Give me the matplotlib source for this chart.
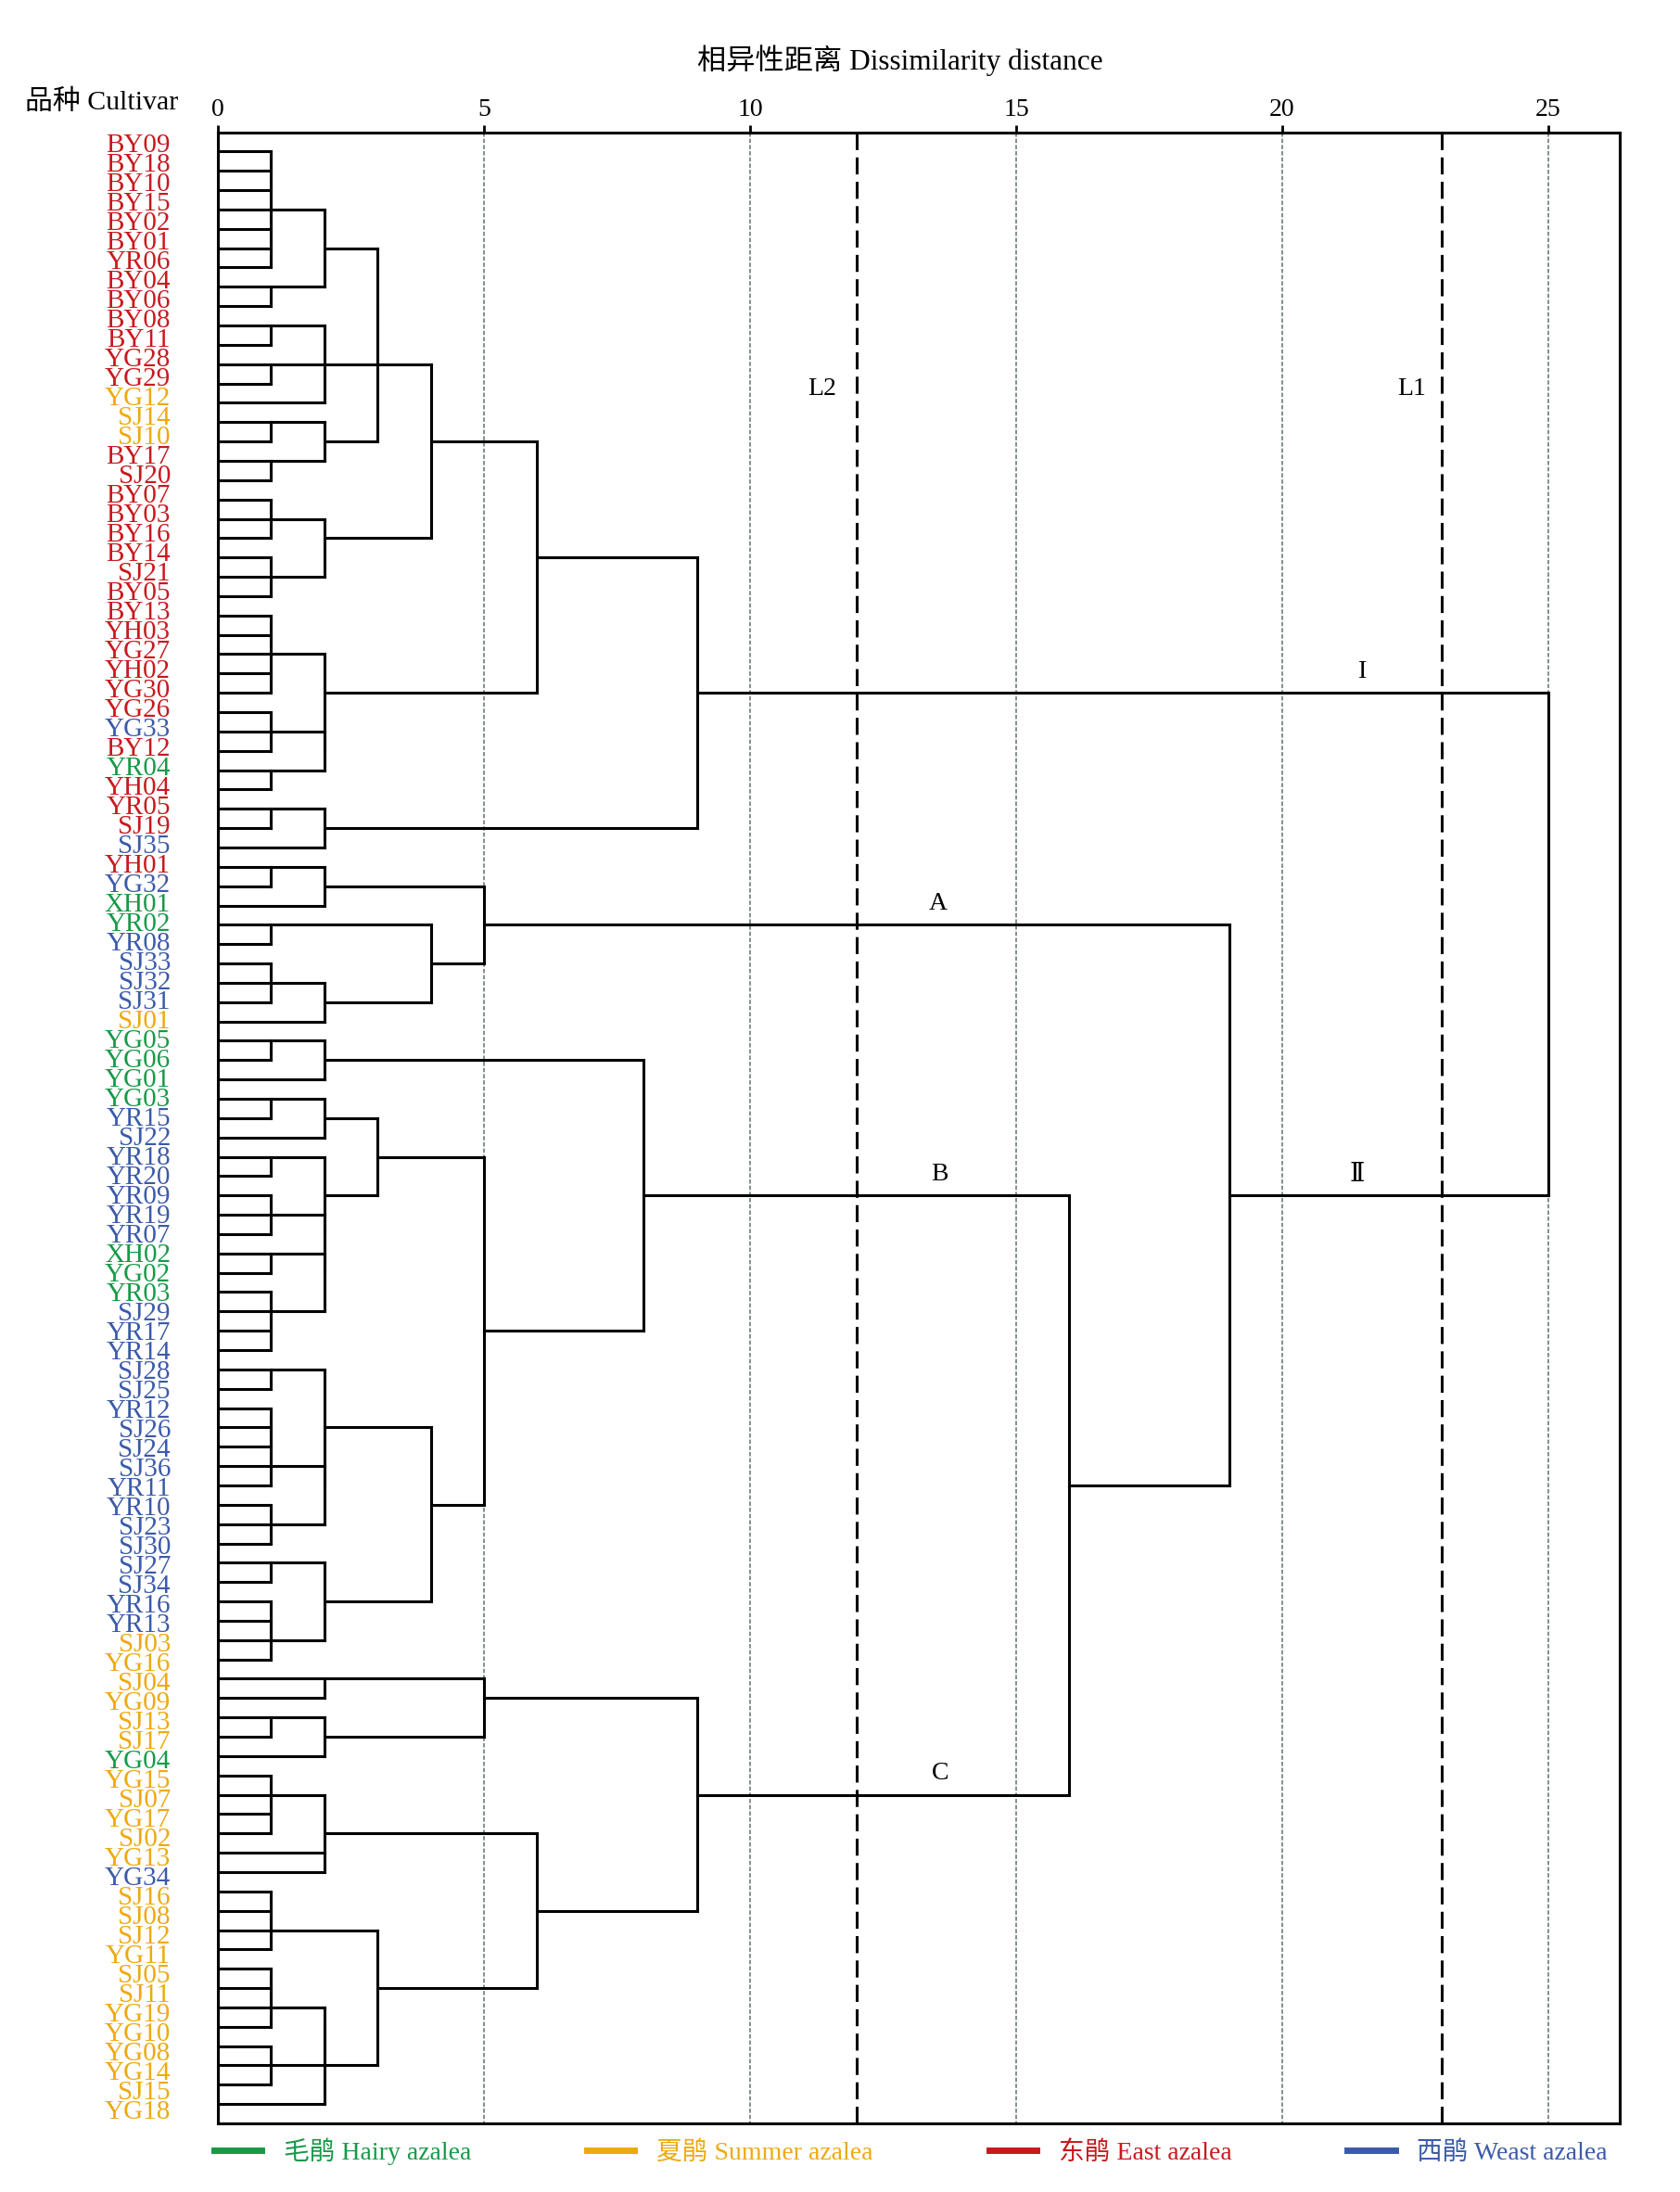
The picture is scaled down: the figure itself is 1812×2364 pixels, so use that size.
import matplotlib
matplotlib.use('Agg')
import matplotlib.pyplot as plt
from matplotlib.collections import LineCollection
from matplotlib.lines import Line2D

plt.rcParams['font.family'] = ['Liberation Serif', 'Noto Sans CJK SC']

# leaf labels, top to bottom
cultivars = ['BY09', 'BY18', 'BY10', 'BY15', 'BY02', 'BY01', 'YR06', 'BY04', 'BY06', 'BY08',
             'BY11', 'YG28', 'YG29', 'YG12', 'SJ14', 'SJ10', 'BY17', 'SJ20', 'BY07', 'BY03',
             'BY16', 'BY14', 'SJ21', 'BY05', 'BY13', 'YH03', 'YG27', 'YH02', 'YG30', 'YG26',
             'YG33', 'BY12', 'YR04', 'YH04', 'YR05', 'SJ19', 'SJ35', 'YH01', 'YG32', 'XH01',
             'YR02', 'YR08', 'SJ33', 'SJ32', 'SJ31', 'SJ01', 'YG05', 'YG06', 'YG01', 'YG03',
             'YR15', 'SJ22', 'YR18', 'YR20', 'YR09', 'YR19', 'YR07', 'XH02', 'YG02', 'YR03',
             'SJ29', 'YR17', 'YR14', 'SJ28', 'SJ25', 'YR12', 'SJ26', 'SJ24', 'SJ36', 'YR11',
             'YR10', 'SJ23', 'SJ30', 'SJ27', 'SJ34', 'YR16', 'YR13', 'SJ03', 'YG16', 'SJ04',
             'YG09', 'SJ13', 'SJ17', 'YG04', 'YG15', 'SJ07', 'YG17', 'SJ02', 'YG13', 'YG34',
             'SJ16', 'SJ08', 'SJ12', 'YG11', 'SJ05', 'SJ11', 'YG19', 'YG10', 'YG08', 'YG14',
             'SJ15', 'YG18']

# H = hairy, S = summer, E = east, W = weast
groups = ['E', 'E', 'E', 'E', 'E', 'E', 'E', 'E', 'E', 'E',
          'E', 'E', 'E', 'S', 'S', 'S', 'E', 'E', 'E', 'E',
          'E', 'E', 'E', 'E', 'E', 'E', 'E', 'E', 'E', 'E',
          'W', 'E', 'H', 'E', 'E', 'E', 'W', 'E', 'W', 'H',
          'H', 'W', 'W', 'W', 'W', 'S', 'H', 'H', 'H', 'H',
          'W', 'W', 'W', 'W', 'W', 'W', 'W', 'H', 'H', 'H',
          'W', 'W', 'W', 'W', 'W', 'W', 'W', 'W', 'W', 'W',
          'W', 'W', 'W', 'W', 'W', 'W', 'W', 'S', 'S', 'S',
          'S', 'S', 'S', 'H', 'S', 'S', 'S', 'S', 'S', 'W',
          'S', 'S', 'S', 'S', 'S', 'S', 'S', 'S', 'S', 'S',
          'S', 'S']

group_order = ['H', 'S', 'E', 'W']
group_names = {'H': '毛鹃 Hairy azalea', 'S': '夏鹃 Summer azalea',
               'E': '东鹃 East azalea', 'W': '西鹃 Weast azalea'}
group_colors = {'H': '#169a48', 'S': '#eea910', 'E': '#c8191e', 'W': '#3b5aa9'}

# tree nodes: [rescaled distance, child, child, ...]; a child is a leaf index or a node
i_a = [2, [1, 0, 1, 2, 3, 4, 5, 6], [1, 7, 8]]
i_b = [2, [1, 9, 10], [1, 11, 12], 13]
i_c = [2, [1, 14, 15], [1, 16, 17]]
i_d = [2, [1, 18, 19, 20], [1, 21, 22, 23]]
i_e = [2, [1, 24, 25, 26, 27, 28], [2, [1, 29, 30, 31], [1, 32, 33]]]
i_f = [2, [1, 34, 35], 36]
cluster_I = [9, [6, [4, [3, [3, i_a, i_b], i_c], i_d], i_e], i_f]

a_g = [2, [1, 37, 38], 39]
a_h = [4, [1, 40, 41], [2, [1, 42, 43, 44], 45]]
cluster_A = [5, a_g, a_h]

b_i = [2, [1, 46, 47], 48]
b_j = [2, [1, 49, 50], 51]
b_k = [2, [1, 52, 53], [2, [1, 54, 55, 56], [2, [1, 57, 58], [1, 59, 60, 61, 62]]]]
b_l = [2, [1, 63, 64], [2, [1, [1, [1, 65, 66, 67], 68], 69], [1, 70, 71, 72]]]
b_m = [2, [1, 73, 74], [1, [1, 75, 76, 77], 78]]
cluster_B = [8, b_i, [5, [3, b_j, b_k], [4, b_l, b_m]]]

c_n = [5, [2, 79, 80], [2, [1, 81, 82], 83]]
c_o = [2, [1, 84, 85, 86, 87], 88, 89]
c_p = [3, [1, [1, 90, 91, 92], 93], [2, [2, [1, [1, 94, 95, 96], 97], [1, 98, 99, 100]], 101]]
cluster_C = [9, c_n, [6, c_o, c_p]]

cluster_BC = [16, cluster_B, cluster_C]
cluster_II = [19, cluster_A, cluster_BC]
root = [25, cluster_I, cluster_II]

cut_L2 = 12
cut_L1 = 23

# --- layout of the tree (SPSS-like: node row = floor of mean of child rows)
segments = []
node_row = {}


def layout(node):
    if isinstance(node, int):
        return node, 0
    height, *children = node
    placed = [layout(c) for c in children]
    rows = [p for p, _ in placed]
    for p, h in placed:
        if h != height:
            segments.append([(h, p), (height, p)])
    segments.append([(height, min(rows)), (height, max(rows))])
    row = sum(rows) // len(rows)
    node_row[id(node)] = row
    return row, height


layout(root)

fig = plt.figure(figsize=(18.12, 23.64), dpi=100)
ax = fig.add_axes([0.1297, 0.0313, 0.8344, 0.9084])
n = len(cultivars)
ax.set_xlim(0, 26.34)
ax.set_ylim(n, -1)

# grid and cut lines
ax.vlines([5, 10, 15, 20, 25], -1, n, colors='#7a8780', linewidth=1.3,
          linestyles=(0, (2.5, 1.2)), zorder=1)
ax.vlines([cut_L2, cut_L1], -1, n, colors='black', linewidth=2.2,
          linestyles=(0, (6, 2.6)), zorder=2)

lc = LineCollection(segments, colors='black', linewidths=2.2, capstyle='projecting', zorder=3)
ax.add_collection(lc)

# leaf labels
lab_fs = 21
for k, (name, g) in enumerate(zip(cultivars, groups)):
    yc = -0.40 + k * (101.7 / 101)
    ax.text(-0.89, yc + 0.45, name, ha='right', va='baseline', fontsize=lab_fs,
            color=group_colors[g], clip_on=False)

# cluster annotations
ann_fs = 20
ax.text(11.36, 12.3, 'L2', ha='center', va='center', fontsize=ann_fs)
ax.text(22.44, 12.3, 'L1', ha='center', va='center', fontsize=ann_fs)
ax.text(21.5, node_row[id(cluster_I)] - 1.1, 'I', ha='center', va='center', fontsize=ann_fs)
ax.text(21.41, node_row[id(cluster_II)] - 1.1, 'Ⅱ', ha='center', va='center', fontsize=ann_fs,
        family=['DejaVu Serif', 'Liberation Serif', 'Noto Sans CJK SC'])
ax.text(13.54, node_row[id(cluster_A)] - 1.1, 'A', ha='center', va='center', fontsize=ann_fs)
ax.text(13.57, node_row[id(cluster_B)] - 1.1, 'B', ha='center', va='center', fontsize=ann_fs)
ax.text(13.57, node_row[id(cluster_C)] - 1.1, 'C', ha='center', va='center', fontsize=ann_fs)

# axes styling
for s in ax.spines.values():
    s.set_linewidth(2.2)
ax.xaxis.tick_top()
ax.set_xticks([0, 5, 10, 15, 20, 25])
ax.tick_params(axis='x', which='both', direction='out', length=5.5, width=2.0,
               pad=3, labelsize=20, top=True, bottom=False)
ax.set_yticks([])

fig.text(0.5359, 0.9725, '相异性距离 Dissimilarity distance', ha='center', va='center', fontsize=22.5)
fig.text(0.0607, 0.9535, '品种 Cultivar', ha='center', va='center', fontsize=21.5)

handles = [Line2D([], [], color=group_colors[g], linewidth=5) for g in group_order]
leg = fig.legend(handles, [group_names[g] for g in group_order], loc='center',
                 bbox_to_anchor=(0.5421, 0.0186), ncol=4, frameon=False, fontsize=20,
                 handlelength=1.85, handletextpad=0.85, columnspacing=4.5)
for txt, g in zip(leg.get_texts(), group_order):
    txt.set_color(group_colors[g])

fig.savefig('out.png', dpi=100)
